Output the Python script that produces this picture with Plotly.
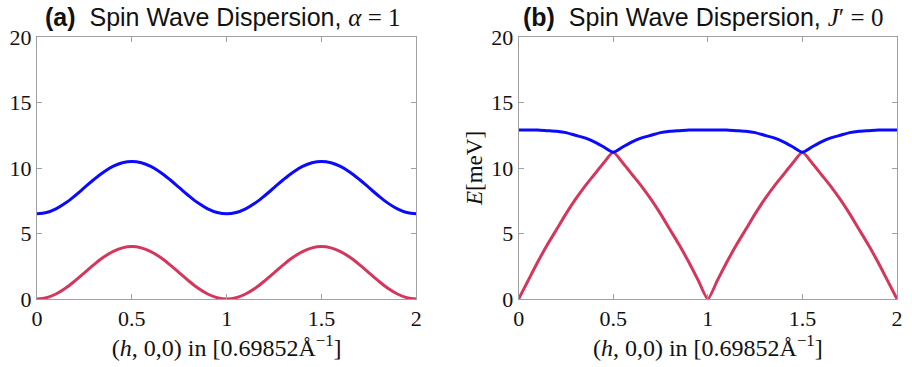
import plotly.graph_objects as go

# ---- data ----
h = [round(i * 0.05, 2) for i in range(41)]

a_upper = [6.5, 6.6, 6.88, 7.32, 7.88, 8.5, 9.12, 9.68, 10.12, 10.4, 10.5,
           10.4, 10.12, 9.68, 9.12, 8.5, 7.88, 7.32, 6.88, 6.6, 6.5,
           6.6, 6.88, 7.32, 7.88, 8.5, 9.12, 9.68, 10.12, 10.4, 10.5,
           10.4, 10.12, 9.68, 9.12, 8.5, 7.88, 7.32, 6.88, 6.6, 6.5]
a_lower = [0.0, 0.1, 0.38, 0.82, 1.38, 2.0, 2.62, 3.18, 3.62, 3.9, 4.0,
           3.9, 3.62, 3.18, 2.62, 2.0, 1.38, 0.82, 0.38, 0.1, 0.0,
           0.1, 0.38, 0.82, 1.38, 2.0, 2.62, 3.18, 3.62, 3.9, 4.0,
           3.9, 3.62, 3.18, 2.62, 2.0, 1.38, 0.82, 0.38, 0.1, 0.0]

b_upper = [12.9, 12.9, 12.9, 12.85, 12.8, 12.7, 12.5, 12.3, 12.0, 11.6, 11.2,
           11.6, 12.0, 12.3, 12.5, 12.7, 12.8, 12.85, 12.9, 12.9, 12.9,
           12.9, 12.9, 12.85, 12.8, 12.7, 12.5, 12.3, 12.0, 11.6, 11.2,
           11.6, 12.0, 12.3, 12.5, 12.7, 12.8, 12.85, 12.9, 12.9, 12.9]
b_lower = [0.0, 1.4, 2.8, 4.1, 5.3, 6.5, 7.6, 8.6, 9.5, 10.4, 11.2,
           10.4, 9.5, 8.6, 7.6, 6.5, 5.3, 4.1, 2.8, 1.4, 0.0,
           1.4, 2.8, 4.1, 5.3, 6.5, 7.6, 8.6, 9.5, 10.4, 11.2,
           10.4, 9.5, 8.6, 7.6, 6.5, 5.3, 4.1, 2.8, 1.4, 0.0]

x_ticks = [0, 0.5, 1, 1.5, 2]
x_ticklabels = ["0", "0.5", "1", "1.5", "2"]
y_ticks = [0, 5, 10, 15, 20]
y_ticklabels = ["0", "5", "10", "15", "20"]

BLUE = "#0a0aff"
RED = "#d4365c"
SERIF = "Liberation Serif"
SANS = "Liberation Sans"
TXT = "#111"

fig = go.Figure()
fig.add_trace(go.Scatter(x=h, y=a_lower, mode="lines", line=dict(color=RED, width=3, shape="spline"),
                         xaxis="x", yaxis="y", showlegend=False))
fig.add_trace(go.Scatter(x=h, y=a_upper, mode="lines", line=dict(color=BLUE, width=3, shape="spline"),
                         xaxis="x", yaxis="y", showlegend=False))
fig.add_trace(go.Scatter(x=h, y=b_lower, mode="lines", line=dict(color=RED, width=3, shape="spline", smoothing=0.6),
                         xaxis="x2", yaxis="y2", showlegend=False))
fig.add_trace(go.Scatter(x=h, y=b_upper, mode="lines", line=dict(color=BLUE, width=3, shape="spline", smoothing=0.6),
                         xaxis="x2", yaxis="y2", showlegend=False))

L, R, T, B = 37, 9, 37, 68
W, H = 912, 367
PW = W - L - R


def xd(a, b):
    return [(a - L) / PW, (b - L) / PW]


xtitle = "(<i>h</i>, 0,0) in [0.69852Å<sup>−1</sup>]"
axis_common = dict(showgrid=False, zeroline=False, showline=True, linecolor="#a0a0a0", linewidth=1,
                   mirror="ticks", ticks="inside", ticklen=5, tickcolor="#a0a0a0",
                   tickfont=dict(family=SERIF, size=22, color=TXT))

fig.update_layout(
    width=W, height=H, margin=dict(l=L, r=R, t=T, b=B),
    paper_bgcolor="white", plot_bgcolor="white",
    xaxis=dict(domain=xd(37, 419), range=[0, 2], tickvals=x_ticks, ticktext=x_ticklabels,
               title=dict(text=xtitle, font=dict(family=SERIF, size=24, color=TXT), standoff=4),
               anchor="y", **axis_common),
    yaxis=dict(domain=[0, 1], range=[0, 20], tickvals=y_ticks, ticktext=y_ticklabels,
               anchor="x", **axis_common),
    xaxis2=dict(domain=xd(522, 903), range=[0, 2], tickvals=x_ticks, ticktext=x_ticklabels,
                title=dict(text=xtitle, font=dict(family=SERIF, size=24, color=TXT), standoff=4),
                anchor="y2", **axis_common),
    yaxis2=dict(domain=[0, 1], range=[0, 20], tickvals=y_ticks, ticktext=y_ticklabels,
                title=dict(text="<i>E</i>[meV]", font=dict(family=SERIF, size=23, color=TXT), standoff=2),
                anchor="x2", **axis_common),
)

fig.add_annotation(xref="paper", yref="paper", x=(43 - L) / PW, y=1, yanchor="bottom", xanchor="left",
                   yshift=4, showarrow=False,
                   text="<b>(a)</b>  Spin Wave Dispersion, <span style='font-family:Liberation Serif'><i>α</i>&nbsp;=&nbsp;1</span>",
                   font=dict(family=SANS, size=25, color=TXT))
fig.add_annotation(xref="paper", yref="paper", x=(524 - L) / PW, y=1, yanchor="bottom", xanchor="left",
                   yshift=4, showarrow=False,
                   text="<b>(b)</b>  Spin Wave Dispersion, <span style='font-family:Liberation Serif'><i>J</i>′&nbsp;=&nbsp;0</span>",
                   font=dict(family=SANS, size=25, color=TXT))

fig.write_html("out.html")
